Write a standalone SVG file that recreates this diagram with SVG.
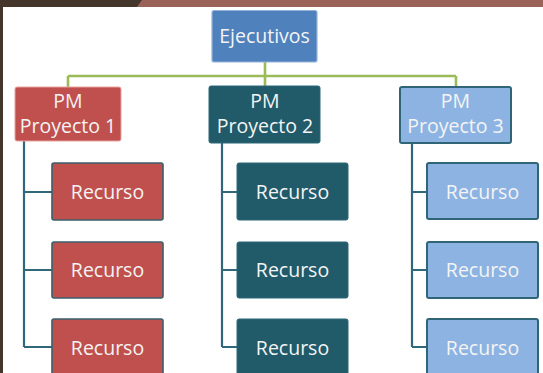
<svg xmlns="http://www.w3.org/2000/svg" width="543" height="373" viewBox="0 0 543 373">
<style>
text{font-family:"Open Sans","Noto Sans","Liberation Sans",sans-serif;font-size:19.5px;fill:#f4f4f4;text-anchor:middle}
.red{fill:#c0504d}
.teal{fill:#215a69}
.lb{fill:#8db3e2}
.c{fill:none;stroke:#31677a;stroke-width:2.2}
.g{fill:none;stroke:#9bbb59;stroke-width:2.6}
</style>
<rect x="0" y="0" width="543" height="373" fill="#ffffff"/>
<rect x="0" y="0" width="543" height="7" fill="#9b6259"/>
<polygon points="0,0 142,0 137,7 3,7 3,373 0,373" fill="#45362c"/>
<g id="connectors">
<path class="g" d="M265,62 V76 M68,76 H456 M68,76 V87 M265,76 V86 M456,76 V87"/>
<path class="c" d="M24,141 V347 M24,192 H52 M24,270 H52 M24,347 H52"/>
<path class="c" d="M222,143 V347 M222,192 H237 M222,270 H237 M222,347 H237"/>
<path class="c" d="M412,143 V347 M412,192 H427 M412,270 H427 M412,347 H427"/>
</g>
<g id="ejecutivos">
<rect x="212" y="10.5" width="105" height="51.5" rx="2" fill="#4f81bd" stroke="#95b3d7" stroke-width="1.2"/>
<text x="264.5" y="42.5">Ejecutivos</text>
</g>
<g id="pm1">
<rect x="15" y="87" width="106" height="54" rx="2" class="red" stroke="#e6a3a1" stroke-width="1"/>
<text x="68" y="108">PM</text>
<text x="68" y="132.5">Proyecto 1</text>
</g>
<g id="pm2">
<rect x="209" y="86" width="111" height="57" rx="2" class="teal" stroke="#2a6878" stroke-width="1"/>
<text x="265" y="108">PM</text>
<text x="265" y="132.5">Proyecto 2</text>
</g>
<g id="pm3">
<rect x="400" y="87" width="111" height="56" rx="2" class="lb" stroke="#2f6577" stroke-width="2"/>
<text x="455.5" y="108">PM</text>
<text x="455.5" y="132.5">Proyecto 3</text>
</g>
<g id="r1a"><rect x="52" y="163" width="111" height="57" rx="2" class="red" stroke="#3a5f6c" stroke-width="1.6"/><text x="107.5" y="198.5">Recurso</text></g>
<g id="r1b"><rect x="52" y="242" width="111" height="56" rx="2" class="red" stroke="#3a5f6c" stroke-width="1.6"/><text x="107.5" y="276.5">Recurso</text></g>
<g id="r1c"><rect x="52" y="319" width="111" height="57" rx="2" class="red" stroke="#3a5f6c" stroke-width="1.6"/><text x="107.5" y="354.5">Recurso</text></g>
<g id="r2a"><rect x="237" y="163" width="111" height="57" rx="2" class="teal" stroke="#2a6878" stroke-width="1"/><text x="292.5" y="198.5">Recurso</text></g>
<g id="r2b"><rect x="237" y="242" width="111" height="56" rx="2" class="teal" stroke="#2a6878" stroke-width="1"/><text x="292.5" y="276.5">Recurso</text></g>
<g id="r2c"><rect x="237" y="319" width="111" height="57" rx="2" class="teal" stroke="#2a6878" stroke-width="1"/><text x="292.5" y="354.5">Recurso</text></g>
<g id="r3a"><rect x="427" y="163" width="111" height="56" rx="2" class="lb" stroke="#2f6577" stroke-width="2"/><text x="482.5" y="198.5">Recurso</text></g>
<g id="r3b"><rect x="427" y="242" width="111" height="56" rx="2" class="lb" stroke="#2f6577" stroke-width="2"/><text x="482.5" y="276.5">Recurso</text></g>
<g id="r3c"><rect x="427" y="319" width="111" height="57" rx="2" class="lb" stroke="#2f6577" stroke-width="2"/><text x="482.5" y="354.5">Recurso</text></g>
</svg>
